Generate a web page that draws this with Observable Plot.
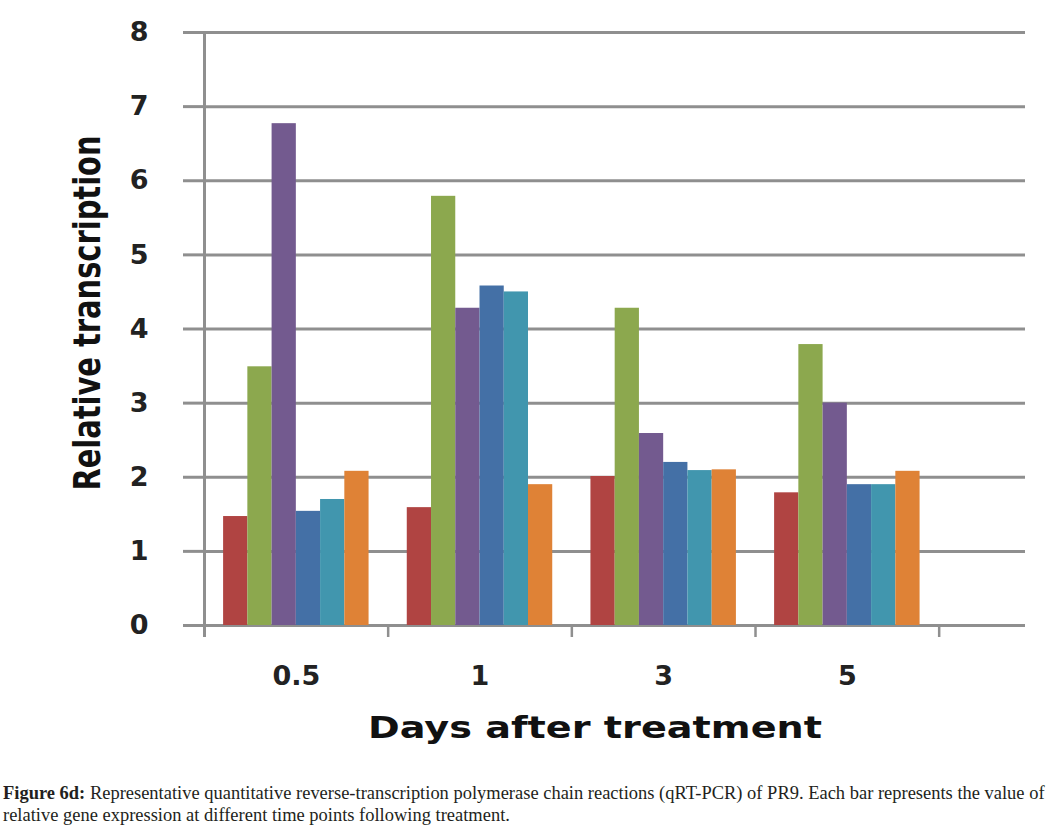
<!DOCTYPE html>
<html>
<head>
<meta charset="utf-8">
<script src="https://cdn.jsdelivr.net/npm/d3@7"></script>
<script src="https://cdn.jsdelivr.net/npm/@observablehq/plot@0.6"></script>
<style>
  html, body { margin: 0; padding: 0; background: #fff; }
  #chart svg { display: block; }
  #caption { font-family: "Liberation Serif", serif; font-size: 16px; line-height: 22px; color: #231f20; margin: 12px 0 0 3px; white-space: nowrap; }
  #caption b { font-weight: bold; }
</style>
</head>
<body>
<div id="chart"></div>
<div id="caption"><span id="l1"><b>Figure 6d:</b> Representative quantitative reverse-transcription polymerase chain reactions (qRT-PCR) of PR9. Each bar represents the value of</span><br><span id="l2">relative gene expression at different time points following treatment.</span></div>
<script>
// Data
const categories = ["0.5", "1", "3", "5"];
const seriesNames = ["Series 1", "Series 2", "Series 3", "Series 4", "Series 5", "Series 6"];
const series1 = [1.47, 1.59, 2.01, 1.79];
const series2 = [3.49, 5.79, 4.28, 3.79];
const series3 = [6.77, 4.28, 2.59, 3.00];
const series4 = [1.54, 4.58, 2.20, 1.90];
const series5 = [1.70, 4.50, 2.09, 1.90];
const series6 = [2.08, 1.90, 2.10, 2.08];
const yTicks = [0, 1, 2, 3, 4, 5, 6, 7, 8];
const colors = ["#b04442", "#8ca84e", "#735a8f", "#4470a6", "#4196ae", "#df8236"];

const allSeries = [series1, series2, series3, series4, series5, series6];
const rows = [];
allSeries.forEach((vals, si) => {
  vals.forEach((v, gi) => rows.push({category: categories[gi], gi, si, series: seriesNames[si], value: v}));
});

const barW = 0.132;           // fraction of a category slot per bar
const groupPad = (1 - barW * seriesNames.length) / 2;
const gridColor = "#8f8f8f";

const chart = Plot.plot({
  width: 1052,
  height: 770,
  marginLeft: 204,
  marginRight: 27,
  marginTop: 32,
  marginBottom: 145,
  x: {domain: [0, 4.47], axis: null},
  y: {domain: [0, 8], axis: null},
  color: {domain: seriesNames, range: colors},
  style: {fontFamily: "DejaVu Sans", background: "#fff"},
  marks: [
    Plot.ruleY(yTicks, {stroke: gridColor, strokeWidth: 3}),
    Plot.axisY({ticks: yTicks, tickSize: 21, tickPadding: 35, stroke: gridColor, strokeWidth: 3, strokeOpacity: 1,
      fontSize: 27, fontWeight: "bold", fill: "#222", label: null, tickFormat: d => String(d)}),
    Plot.ruleX([0], {stroke: gridColor, strokeWidth: 3, insetBottom: -12}),
    Plot.axisX({ticks: [1, 2, 3, 4], tickSize: 12, stroke: gridColor, strokeWidth: 2.5, strokeOpacity: 1, tickFormat: () => "", label: null}),
    Plot.axisX({ticks: categories.map((c, i) => i + 0.5), tickSize: 0, tickPadding: 40, fontSize: 27, fontWeight: "bold", fill: "#222",
      tickFormat: d => categories[Math.floor(d)], label: null}),
    Plot.rectY(rows, {
      x1: d => d.gi + groupPad + d.si * barW,
      x2: d => d.gi + groupPad + (d.si + 1) * barW,
      y1: 0,
      y2: "value",
      fill: "series"
    }),
    Plot.text(["Days after treatment"], {frameAnchor: "bottom", textAnchor: "middle", lineAnchor: "middle", dx: -20, dy: 103, fontSize: 31, fontWeight: "bold", fill: "#111", className: "xtitle"}),
    Plot.text(["Relative transcription"], {frameAnchor: "left", textAnchor: "middle", lineAnchor: "middle", rotate: -90, dx: -117, dy: -16, fontSize: 38, fontWeight: "bold", fill: "#111", className: "ytitle"})
  ]
});
document.getElementById("chart").appendChild(chart);

// fit label lengths to the reference layout
d3.select(chart).selectAll(".ytitle text").attr("textLength", 355).attr("lengthAdjust", "spacingAndGlyphs");
d3.select(chart).selectAll(".xtitle text").attr("textLength", 454).attr("lengthAdjust", "spacingAndGlyphs");

// fit caption line to width
const l1 = document.getElementById("l1");
const cap = document.getElementById("caption");
const w = l1.getBoundingClientRect().width;
const target = 1042;
cap.style.fontSize = (16 * target / w).toFixed(2) + "px";
</script>
</body>
</html>
